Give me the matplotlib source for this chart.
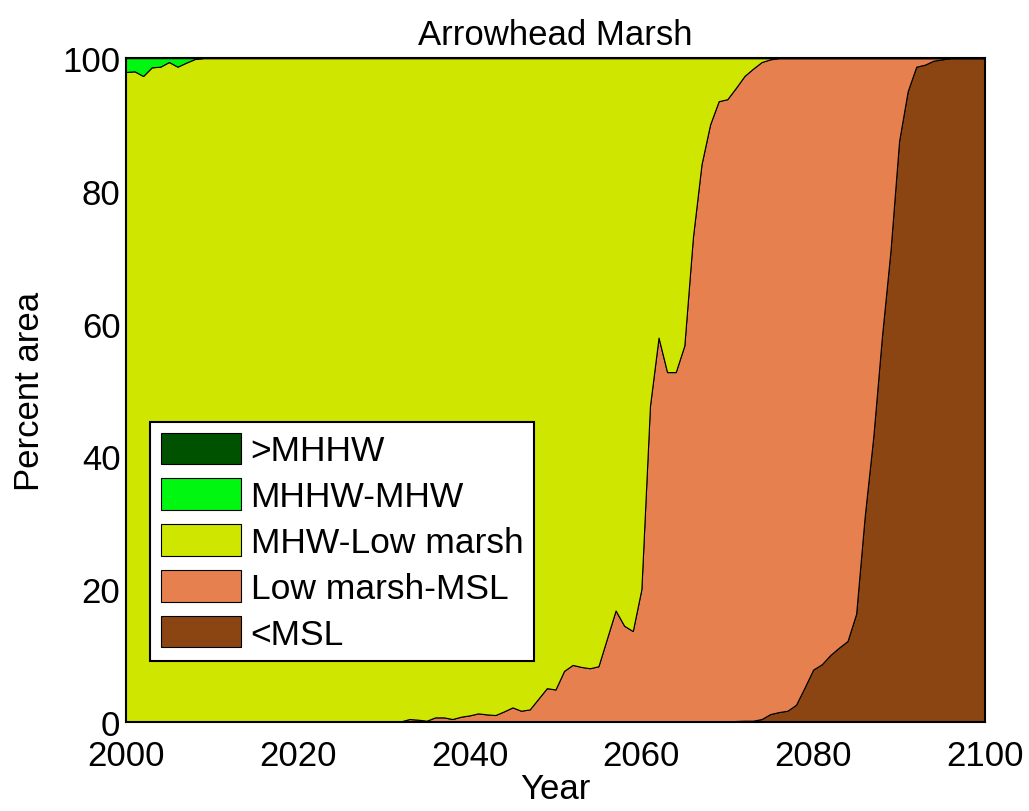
import numpy as np
import matplotlib
matplotlib.use("Agg")
import matplotlib.pyplot as plt
from matplotlib.patches import Patch

plt.rcParams['font.family'] = ['Liberation Sans', 'DejaVu Sans']

years = np.arange(2000, 2101)

# Percent of marsh area in each elevation class, one value per year 2000-2100
above_mhhw = [
    0, 0, 0, 0, 0, 0, 0, 0, 0, 0,
    0, 0, 0, 0, 0, 0, 0, 0, 0, 0,
    0, 0, 0, 0, 0, 0, 0, 0, 0, 0,
    0, 0, 0, 0, 0, 0, 0, 0, 0, 0,
    0, 0, 0, 0, 0, 0, 0, 0, 0, 0,
    0, 0, 0, 0, 0, 0, 0, 0, 0, 0,
    0, 0, 0, 0, 0, 0, 0, 0, 0, 0,
    0, 0, 0, 0, 0, 0, 0, 0, 0, 0,
    0, 0, 0, 0, 0, 0, 0, 0, 0, 0,
    0, 0, 0, 0, 0, 0, 0, 0, 0, 0,
    0,
]
mhhw_to_mhw = [
    2.1, 2.0, 2.7, 1.4, 1.3, 0.6, 1.3, 0.7, 0.15, 0,
    0, 0, 0, 0, 0, 0, 0, 0, 0, 0,
    0, 0, 0, 0, 0, 0, 0, 0, 0, 0,
    0, 0, 0, 0, 0, 0, 0, 0, 0, 0,
    0, 0, 0, 0, 0, 0, 0, 0, 0, 0,
    0, 0, 0, 0, 0, 0, 0, 0, 0, 0,
    0, 0, 0, 0, 0, 0, 0, 0, 0, 0,
    0, 0, 0, 0, 0, 0, 0, 0, 0, 0,
    0, 0, 0, 0, 0, 0, 0, 0, 0, 0,
    0, 0, 0, 0, 0, 0, 0, 0, 0, 0,
    0,
]
mhw_to_low_marsh = [
    97.9, 98.0, 97.3, 98.6, 98.7, 99.4, 98.7, 99.3, 99.85, 100,
    100, 100, 100, 100, 100, 100, 100, 100, 100, 100,
    100, 100, 100, 100, 100, 100, 100, 100, 100, 100,
    100, 100, 99.9, 99.55, 99.65, 99.8, 99.3, 99.3, 99.55, 99.2,
    99.0, 98.7, 98.85, 98.95, 98.4, 97.8, 98.3, 98.1, 96.5, 94.9,
    95.1, 92.3, 91.4, 91.7, 91.9, 91.6, 87.4, 83.2, 85.5, 86.3,
    80.0, 52.4, 42.1, 47.3, 47.3, 43.3, 27.0, 16.0, 10.0, 6.5,
    6.2, 4.5, 2.7, 1.6, 0.6, 0.2, 0, 0, 0, 0,
    0, 0, 0, 0, 0, 0, 0, 0, 0, 0,
    0, 0, 0, 0, 0, 0, 0, 0, 0, 0,
    0,
]
low_marsh_to_msl = [
    0, 0, 0, 0, 0, 0, 0, 0, 0, 0,
    0, 0, 0, 0, 0, 0, 0, 0, 0, 0,
    0, 0, 0, 0, 0, 0, 0, 0, 0, 0,
    0, 0, 0.1, 0.45, 0.35, 0.2, 0.7, 0.7, 0.45, 0.8,
    1.0, 1.3, 1.15, 1.05, 1.6, 2.2, 1.7, 1.9, 3.5, 5.1,
    4.9, 7.7, 8.6, 8.3, 8.1, 8.4, 12.6, 16.8, 14.5, 13.7,
    20.0, 47.6, 57.9, 52.7, 52.7, 56.7, 73.0, 84.0, 90.0, 93.45,
    93.7, 95.35, 97.1, 98.2, 98.95, 98.6, 98.5, 98.3, 97.4, 94.8,
    92.1, 91.3, 89.9, 88.8, 87.8, 83.7, 69.0, 57.0, 42.0, 29.0,
    12.5, 5.0, 1.3, 1.0, 0.4, 0.2, 0, 0, 0, 0,
    0,
]
below_msl = [
    0, 0, 0, 0, 0, 0, 0, 0, 0, 0,
    0, 0, 0, 0, 0, 0, 0, 0, 0, 0,
    0, 0, 0, 0, 0, 0, 0, 0, 0, 0,
    0, 0, 0, 0, 0, 0, 0, 0, 0, 0,
    0, 0, 0, 0, 0, 0, 0, 0, 0, 0,
    0, 0, 0, 0, 0, 0, 0, 0, 0, 0,
    0, 0, 0, 0, 0, 0, 0, 0, 0, 0.05,
    0.1, 0.15, 0.2, 0.2, 0.45, 1.2, 1.5, 1.7, 2.6, 5.2,
    7.9, 8.7, 10.1, 11.2, 12.2, 16.3, 31.0, 43.0, 58.0, 71.0,
    87.5, 95.0, 98.7, 99.0, 99.6, 99.8, 100, 100, 100, 100,
    100,
]

class_labels = ['>MHHW', 'MHHW-MHW', 'MHW-Low marsh', 'Low marsh-MSL', '<MSL']
class_colors = ['#005200', '#00f810', '#cfe600', '#e6814f', '#8b4513']
x_ticks = [2000, 2020, 2040, 2060, 2080, 2100]
y_ticks = [0, 20, 40, 60, 80, 100]

fig = plt.figure(figsize=(10.29, 8.12), dpi=100)
ax = fig.add_axes([0.1224, 0.1096, 0.8348, 0.8177])

# Stack from the lowest elevation class at the bottom up to the highest
series_bottom_up = [below_msl, low_marsh_to_msl, mhw_to_low_marsh,
                    mhhw_to_mhw, above_mhhw]
colors_bottom_up = class_colors[::-1]
ax.stackplot(years, np.array(series_bottom_up, dtype=float),
             colors=colors_bottom_up, edgecolor='black', linewidth=0.8)

ax.set_xlim(2000, 2100)
ax.set_ylim(0, 100)
ax.set_xticks(x_ticks)
ax.set_yticks(y_ticks)
ax.set_axisbelow(True)
ax.tick_params(direction='in', length=8, width=1.2, labelsize=25)
ax.tick_params(axis='x', pad=12)
ax.tick_params(axis='y', pad=4)
for s in ax.spines.values():
    s.set_linewidth(1.5)
    s.set_color('black')

ax.set_title('Arrowhead Marsh', fontsize=25, pad=10)
ax.set_xlabel('Year', fontsize=25, labelpad=0)
ax.set_ylabel('Percent area', fontsize=25, labelpad=12)

handles = [Patch(facecolor=c, edgecolor='black', linewidth=0.8)
           for c in class_colors]
leg = ax.legend(handles, class_labels, loc='upper left',
                bbox_to_anchor=(0.028, 0.452), borderaxespad=0,
                fontsize=25.5, handlelength=2.26, handleheight=0.99,
                handletextpad=0.28, labelspacing=0.31, borderpad=0.3,
                fancybox=False, framealpha=1, edgecolor='black')
leg.get_frame().set_linewidth(1.5)

fig.savefig('out.png', dpi=100)
